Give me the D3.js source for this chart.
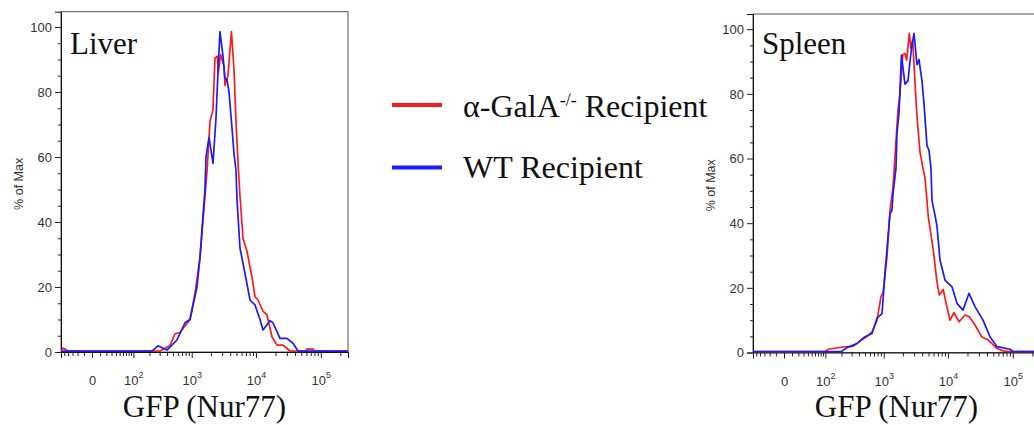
<!DOCTYPE html>
<html>
<head>
<meta charset="utf-8">
<script src="https://cdn.jsdelivr.net/npm/d3@7"></script>
<style>
  body { margin: 0; background: #fff; }
  svg { display: block; }
  .tick text { font-family: 'Liberation Sans', Arial, sans-serif; fill: #333; }
  .serif { font-family: 'Liberation Serif', 'Times New Roman', serif; fill: #111; }
</style>
</head>
<body>
<chart></chart>
<script>
// Histogram values: [GFP intensity, % of Max]
const liverKO = [[-60, 0.3], [-54, 1.2], [-40, 0.3], [304, 0.3], [446, 2], [539, 5.6], [650, 6], [781, 8],
  [938, 10], [1125, 18], [1349, 29], [1560, 44], [1760, 57], [1938, 71], [2157, 74.5], [2318, 90.5],
  [2520, 91], [2610, 86], [2840, 91.5], [3200, 88], [3318, 82], [3540, 84], [3694, 85], [4180, 98.6],
  [4576, 87], [4914, 71], [5330, 57], [5667, 48], [6306, 35], [7272, 31], [8688, 23], [9666, 17],
  [10750, 16], [12850, 12.6], [14800, 11.4], [17690, 4.7], [21120, 2.1], [26140, 2.1], [33500, 0.3],
  [58000, 0.3], [61200, 0.9], [75700, 0.9], [80000, 0.3], [262144, 0.3]];
const liverWT = [[-60, 0.3], [0, 0.3], [222, 0.3], [281, 1.9], [398, 0.6], [580, 3.7], [781, 9], [938, 10],
  [1210, 20], [1349, 29], [1505, 42], [1617, 50], [1677, 60], [1870, 66], [2157, 58], [2404, 72],
  [2580, 86], [2773, 98.6], [3090, 91], [3318, 84], [3550, 84], [3830, 80], [4180, 71], [4576, 61],
  [4914, 56], [5091, 47], [5667, 32], [7272, 21], [8088, 16], [9666, 14.5], [11550, 10], [12850, 6.8],
  [16470, 9.6], [18320, 9], [23490, 4.2], [30100, 4.2], [37260, 2.7], [44500, 0.3], [262144, 0.3]];
const spleenKO = [[-60, 0.3], [100, 0.3], [113, 1], [213, 1.7], [316, 1.9], [446, 3.9], [539, 4.9], [650, 6.4],
  [781, 10], [904, 17.3], [973, 18.4], [1125, 29.6], [1256, 44], [1399, 51], [1677, 75], [1803, 80],
  [1990, 92], [2157, 92.5], [2290, 90.4], [2520, 98.7], [2677, 94], [2840, 96.6], [2979, 89.4],
  [3200, 78], [3350, 72], [3694, 62], [4070, 57.4], [4415, 54], [4740, 47], [4960, 42], [5940, 31.7],
  [6700, 22.4], [7350, 17.8], [8450, 19.5], [9600, 14.2], [10750, 10], [12400, 12.3], [14900, 9.5],
  [18320, 11.6], [21200, 11.1], [26140, 8.5], [33000, 4.9], [41700, 3.9], [56500, 1.3], [70500, 0.5],
  [90000, 0.3], [262144, 0.3]];
const spleenWT = [[-60, 0.3], [200, 0.3], [250, 1.5], [369, 2.8], [500, 4.9], [650, 5.9], [781, 10.6],
  [938, 12], [1046, 24.5], [1256, 43], [1349, 44], [1399, 49], [1560, 57], [1617, 68], [1738, 74],
  [1900, 92], [2157, 83], [2404, 84], [2582, 90], [2750, 94.5], [2979, 98.7], [3318, 89], [3564, 90.6],
  [3967, 84], [4261, 77], [4740, 64], [5091, 62.5], [5466, 57], [5667, 47], [6306, 42.5], [6774, 39],
  [7536, 28.6], [9000, 22.4], [11550, 20.3], [13800, 15.2], [17060, 13.1], [21120, 18.3], [26140, 14.2],
  [34740, 10], [44500, 4.9], [57100, 1.8], [90400, 1], [100600, 0.3], [262144, 0.3]];

const xDomain = [-60, 262144];
const xMajorTicks = [0, 100, 1000, 10000, 100000];
const xTickLabels = [['0', ''], ['10', '2'], ['10', '3'], ['10', '4'], ['10', '5']];
const xMinorTicks = [-60, -50, -40, -30, -20, -10, 10, 20, 30, 40, 50, 60, 70, 80, 90,
  200, 300, 400, 500, 600, 700, 800, 900, 2000, 3000, 4000, 5000, 6000, 7000, 8000, 9000,
  20000, 30000, 40000, 50000, 60000, 70000, 80000, 90000, 200000];
const yMajorTicks = [0, 20, 40, 60, 80, 100];
const yMinorTicks = [5, 10, 15, 25, 30, 35, 45, 50, 55, 65, 70, 75, 85, 90, 95];

const seriesNames = ['\u03b1-GalA', 'WT Recipient'];
const seriesColors = ['#ff1a1a', '#1a1aff'];

const panels = [
  { title: 'Liver', left: 61, top: 11.7, bottom: 352, ko: liverKO, wt: liverWT },
  { title: 'Spleen', left: 753, top: 14, bottom: 352.5, ko: spleenKO, wt: spleenWT }
];
const plotW = 287;

const svg = d3.select('chart').append('svg')
  .attr('width', 1034)
  .attr('height', 425);

panels.forEach(function(p, i) {
  const xScale = d3.scaleSymlog().constant(30)
    .domain(xDomain)
    .range([p.left, p.left + plotW]);
  const yScale = d3.scaleLinear()
    .domain([0, 104.7])
    .range([p.bottom, p.top]);

  // frame
  svg.append('rect')
    .attr('x', p.left).attr('y', p.top)
    .attr('width', plotW).attr('height', p.bottom - p.top)
    .attr('fill', 'none').attr('stroke', '#555').attr('stroke-width', 1);

  // y axis
  const yAxisG = svg.append('g')
    .attr('transform', `translate(${p.left}, 0)`)
    .call(d3.axisLeft(yScale).tickValues(yMajorTicks).tickSize(6).tickPadding(3));
  yAxisG.selectAll('text').style('font-size', '13px');
  svg.append('g')
    .attr('transform', `translate(${p.left}, 0)`)
    .call(d3.axisLeft(yScale).tickValues(yMinorTicks).tickSize(3).tickFormat(''))
    .select('.domain').remove();

  // x axis
  const xAxisG = svg.append('g')
    .attr('transform', `translate(0, ${p.bottom})`)
    .call(d3.axisBottom(xScale).tickValues(xMajorTicks).tickSize(6).tickFormat(''));
  xAxisG.selectAll('.tick').append('text')
    .attr('y', 33)
    .attr('fill', '#333')
    .style('font-size', '13px')
    .attr('text-anchor', 'middle')
    .each(function(d, j) {
      const t = d3.select(this);
      t.append('tspan').text(xTickLabels[j][0]);
      if (xTickLabels[j][1]) {
        t.append('tspan').attr('dy', -7).style('font-size', '9px').text(xTickLabels[j][1]);
      }
    });
  svg.append('g')
    .attr('transform', `translate(0, ${p.bottom})`)
    .call(d3.axisBottom(xScale).tickValues(xMinorTicks).tickSize(4).tickFormat(''))
    .select('.domain').remove();

  svg.selectAll('.domain').attr('stroke', '#111');
  svg.selectAll('.tick line').attr('stroke', '#222');

  // axis titles
  svg.append('text')
    .attr('transform', `translate(${p.left - 38}, ${(p.top + p.bottom) / 2 + 2}) rotate(-90)`)
    .attr('text-anchor', 'middle')
    .style('font-family', "'Liberation Sans', Arial, sans-serif")
    .style('font-size', '12.5px')
    .attr('fill', '#333')
    .text('% of Max');

  svg.append('text')
    .attr('class', 'serif')
    .attr('x', p.left + plotW / 2)
    .attr('y', 417)
    .attr('text-anchor', 'middle')
    .style('font-size', '31px')
    .text('GFP (Nur77)');

  svg.append('text')
    .attr('class', 'serif')
    .attr('x', p.left + 9)
    .attr('y', 53.5)
    .style('font-size', '31px')
    .text(p.title);

  // histogram lines
  const clipId = 'clip' + i;
  svg.append('clipPath').attr('id', clipId)
    .append('rect')
    .attr('x', p.left).attr('y', p.top - 2)
    .attr('width', plotW).attr('height', p.bottom - p.top + 2);

  const histLine = d3.line()
    .x(function(d) { return xScale(d[0]); })
    .y(function(d) { return yScale(d[1]); });

  [p.ko, p.wt].forEach(function(series, k) {
    svg.append('path')
      .attr('d', histLine(series))
      .attr('clip-path', `url(#${clipId})`)
      .attr('fill', 'none')
      .attr('stroke', seriesColors[k])
      .attr('stroke-width', 1.7)
      .attr('stroke-linejoin', 'round');
  });
});

//Legend
const legend = svg.append('g').attr('class', 'legend');
[105, 167.5].forEach(function(ly, k) {
  legend.append('line')
    .attr('x1', 392).attr('x2', 442)
    .attr('y1', ly).attr('y2', ly)
    .attr('stroke', seriesColors[k])
    .attr('stroke-width', 4);
});
const koText = legend.append('text')
  .attr('class', 'serif')
  .attr('x', 463).attr('y', 117)
  .style('font-size', '32px');
koText.append('tspan').text(seriesNames[0]);
koText.append('tspan').attr('dy', -11).style('font-size', '18px').text('-/-');
koText.append('tspan').attr('dy', 11).text(' Recipient');

legend.append('text')
  .attr('class', 'serif')
  .attr('x', 463).attr('y', 178)
  .style('font-size', '32px')
  .text(seriesNames[1]);
</script>
</body>
</html>
